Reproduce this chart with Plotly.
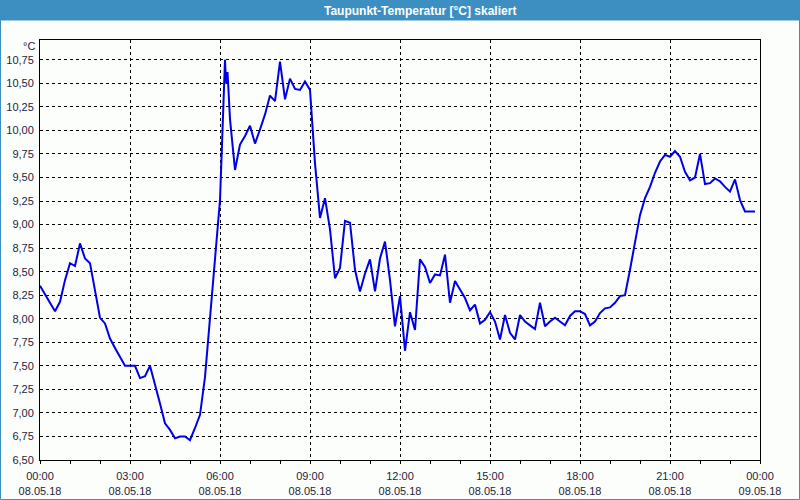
import plotly.graph_objects as go

DATE = "2018-05-08"
times = [
    "00:00","00:10","00:20","00:30","00:40","00:50","01:00","01:10","01:20","01:30","01:40","01:50",
    "02:00","02:10","02:20","02:30","02:40","02:50","03:00","03:10","03:20","03:30","03:40","03:50",
    "04:00","04:10","04:20","04:30","04:40","04:50","05:00","05:10","05:20","05:30","05:40","05:50",
    "06:00","06:05","06:10","06:12","06:15","06:20","06:30","06:40","06:50",
    "07:00","07:10","07:20","07:30","07:40","07:50","08:00","08:10","08:20","08:30","08:40","08:50",
    "09:00","09:10","09:20","09:30","09:40","09:50","10:00","10:10","10:20","10:30","10:40","10:50",
    "11:00","11:10","11:20","11:30","11:40","11:50","12:00","12:10","12:20","12:30","12:40","12:50",
    "13:00","13:10","13:20","13:30","13:40","13:50","14:00","14:10","14:20","14:30","14:40","14:50",
    "15:00","15:10","15:20","15:30","15:40","15:50","16:00","16:10","16:20","16:30","16:40","16:50",
    "17:00","17:10","17:20","17:30","17:40","17:50","18:00","18:10","18:20","18:30","18:40","18:50",
    "19:00","19:10","19:20","19:30","19:40","19:50","20:00","20:10","20:20","20:30","20:40","20:50",
    "21:00","21:10","21:20","21:30","21:40","21:50","22:00","22:10","22:20","22:30","22:40","22:50",
    "23:00","23:10","23:20","23:30","23:40","23:50",
]
dewpoint = [
    8.35,8.26,8.16,8.08,8.18,8.41,8.59,8.56,8.80,8.64,8.59,8.29,
    8.01,7.95,7.79,7.69,7.60,7.50,7.50,7.50,7.37,7.39,7.50,7.31,
    7.10,6.89,6.82,6.73,6.75,6.75,6.71,6.84,6.98,7.38,8.02,8.57,
    9.26,10.00,10.75,10.50,10.62,10.12,9.58,9.85,9.94,
    10.05,9.86,10.01,10.17,10.37,10.31,10.73,10.33,10.55,10.44,10.43,10.52,
    10.43,9.65,9.07,9.28,8.95,8.43,8.54,9.04,9.02,8.52,8.29,8.48,
    8.63,8.29,8.64,8.82,8.41,7.92,8.24,7.66,8.07,7.88,8.63,8.55,
    8.38,8.47,8.46,8.68,8.17,8.40,8.31,8.22,8.09,8.15,7.95,7.99,
    8.07,7.97,7.78,8.04,7.85,7.78,8.04,7.97,7.93,7.89,8.17,7.92,
    7.97,8.01,7.97,7.93,8.03,8.08,8.08,8.05,7.93,7.97,8.06,8.11,
    8.12,8.17,8.24,8.25,8.52,8.80,9.10,9.28,9.40,9.55,9.67,9.74,
    9.72,9.78,9.72,9.56,9.47,9.50,9.75,9.43,9.44,9.49,9.46,9.40,
    9.35,9.48,9.26,9.14,9.14,9.14,
]

x_tickvals = ["2018-05-08 00:00","2018-05-08 03:00","2018-05-08 06:00","2018-05-08 09:00",
              "2018-05-08 12:00","2018-05-08 15:00","2018-05-08 18:00","2018-05-08 21:00",
              "2018-05-09 00:00"]
x_ticktext = ["00:00<br>08.05.18","03:00<br>08.05.18","06:00<br>08.05.18","09:00<br>08.05.18",
              "12:00<br>08.05.18","15:00<br>08.05.18","18:00<br>08.05.18","21:00<br>08.05.18",
              "00:00<br>09.05.18"]
y_tickvals = [6.50,6.75,7.00,7.25,7.50,7.75,8.00,8.25,8.50,8.75,9.00,9.25,9.50,9.75,10.00,10.25,10.50,10.75]
y_ticktext = ["6,50","6,75","7,00","7,25","7,50","7,75","8,00","8,25","8,50","8,75",
              "9,00","9,25","9,50","9,75","10,00","10,25","10,50","10,75"]

title_text = "Taupunkt-Temperatur [°C] skaliert"
unit_text = "°C"

xs = [f"{DATE} {t}" for t in times]

W, H = 800, 500
L, R, T, B = 40, 40, 40, 40
PW, PH = W - L - R, H - T - B

def px_x(p):
    return (p - L) / PW

def px_y(p):
    return (H - B - p) / PH

fig = go.Figure()
fig.add_trace(go.Scatter(x=xs, y=dewpoint, mode="lines",
                         line=dict(color="#0000e6", width=2), hoverinfo="skip"))

font_fam = "Liberation Sans, Arial, sans-serif"
tick_col = "#1c1c40"

fig.update_layout(
    width=W, height=H,
    margin=dict(l=L, r=R, t=T, b=B),
    paper_bgcolor="#fcfefc", plot_bgcolor="#fcfefc",
    showlegend=False,
    font=dict(family=font_fam, size=11, color=tick_col),
    xaxis=dict(
        type="date", automargin=False,
        range=["2018-05-08 00:00", "2018-05-09 00:00"],
        tickvals=x_tickvals, ticktext=x_ticktext,
        showgrid=True, gridcolor="#000000", gridwidth=1, griddash="3px,3px",
        showline=True, linecolor="#000000", linewidth=1, mirror=True,
        ticks="outside", ticklen=3, tickcolor="#000000", ticklabelstandoff=3,
        minor=dict(dtick=3600000, ticks="outside", ticklen=3, tickcolor="#000000", showgrid=False),
        tickfont=dict(family=font_fam, size=11, color=tick_col),
        zeroline=False, fixedrange=True,
    ),
    yaxis=dict(
        automargin=False,
        range=[6.5, 10.96],
        tickvals=y_tickvals, ticktext=y_ticktext,
        showgrid=True, gridcolor="#000000", gridwidth=1, griddash="3px,3px",
        showline=True, linecolor="#000000", linewidth=1, mirror=True,
        ticks="", ticklabelstandoff=3,
        tickfont=dict(family=font_fam, size=11, color=tick_col),
        zeroline=False, fixedrange=True,
    ),
    shapes=[
        dict(type="rect", xref="paper", yref="paper",
             x0=px_x(0), x1=px_x(800), y0=px_y(20.5), y1=px_y(0),
             fillcolor="#3d8fc2", line=dict(width=0), layer="above"),
        dict(type="rect", xref="paper", yref="paper",
             x0=px_x(0.5), x1=px_x(799.5), y0=px_y(499.5), y1=px_y(0.5),
             fillcolor="rgba(0,0,0,0)", line=dict(color="#3d8fc2", width=1)),
    ],
    annotations=[
        dict(text=f"<b>{title_text}</b>", xref="paper", yref="paper",
             x=px_x(420), y=px_y(10.5), xanchor="center", yanchor="middle",
             showarrow=False, font=dict(family=font_fam, size=12, color="#ffffff")),
        dict(text=unit_text, xref="paper", yref="paper",
             x=px_x(37), y=px_y(46), xanchor="right", yanchor="middle",
             showarrow=False, font=dict(family=font_fam, size=11, color=tick_col)),
    ],
)

fig.write_html("out.html")
